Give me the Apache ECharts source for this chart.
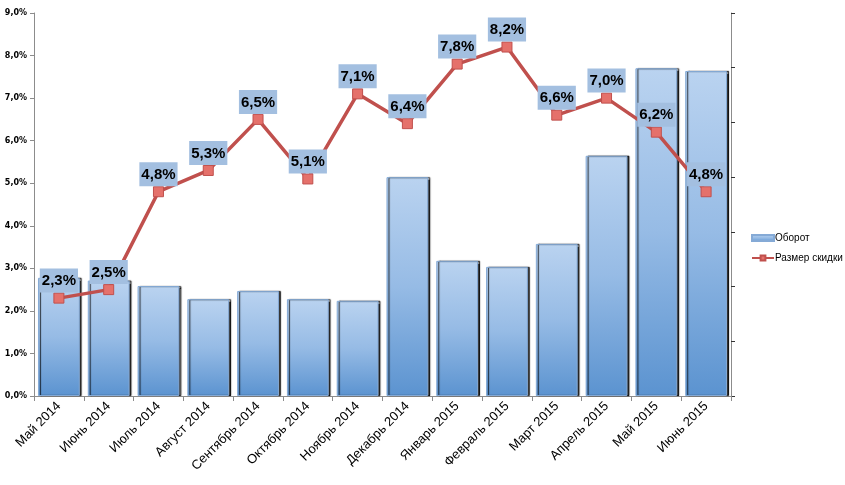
<!DOCTYPE html>
<html><head><meta charset="utf-8">
<script src="https://cdn.jsdelivr.net/npm/echarts@6/dist/echarts.min.js"></script>
<style>html,body{margin:0;padding:0;background:#fff}#c{width:845px;height:485px}</style>
</head><body><div id="c"></div>
<script>
const categories = ['Май 2014','Июнь 2014','Июль 2014','Август 2014','Сентябрь 2014','Октябрь 2014','Ноябрь 2014','Декабрь 2014','Январь 2015','Февраль 2015','Март 2015','Апрель 2015','Май 2015','Июнь 2015'];
const turnover = [2.16, 2.11, 2.01, 1.77, 1.92, 1.77, 1.74, 4.00, 2.47, 2.36, 2.78, 4.39, 5.99, 5.94];
const discount = [2.3, 2.5, 4.8, 5.3, 6.5, 5.1, 7.1, 6.4, 7.8, 8.2, 6.6, 7.0, 6.2, 4.8];
const leftTicks = {min: 0, max: 9, interval: 1};
const rightTicks = {min: 0, max: 7, interval: 1};

const fmt = v => v.toFixed(1).replace('.', ',') + '%';
const chart = echarts.init(document.getElementById('c'));
chart.setOption({
  animation: false,
  grid: {left: 34, right: 114, top: 13, bottom: 89},
  legend: {
    orient: 'vertical', left: 746, top: 228, itemGap: 10,
    itemWidth: 22, itemHeight: 6,
    textStyle: {fontFamily: 'Liberation Sans', fontSize: 10, color: '#000', padding: [0, 0, 0, -4]},
    data: [{name: 'Оборот', icon: 'rect'}, {name: 'Размер скидки'}]
  },
  xAxis: {
    type: 'category', data: categories,
    axisLine: {lineStyle: {color: '#8c8c8c'}},
    axisTick: {show: true, alignWithLabel: false, lineStyle: {color: '#8c8c8c'}},
    axisLabel: {rotate: 45, interval: 0, fontFamily: 'Liberation Sans', fontSize: 13, color: '#000', margin: 8}
  },
  yAxis: [{
    type: 'value', min: leftTicks.min, max: leftTicks.max, interval: leftTicks.interval,
    splitLine: {show: false},
    axisLine: {show: true, lineStyle: {color: '#8c8c8c'}},
    axisTick: {show: true, length: 4, lineStyle: {color: '#8c8c8c'}},
    axisLabel: {formatter: fmt, fontFamily: 'DejaVu Sans', fontWeight: 'bold', fontSize: 8, color: '#000', margin: 7}
  }, {
    type: 'value', position: 'right', min: rightTicks.min, max: rightTicks.max, interval: rightTicks.interval,
    splitLine: {show: false},
    axisLine: {show: true, lineStyle: {color: '#8c8c8c'}},
    axisTick: {show: true, length: 4, lineStyle: {color: '#333'}},
    axisLabel: {show: false}
  }],
  series: [{
    name: 'Оборот', type: 'bar', yAxisIndex: 1, data: turnover,
    barCategoryGap: '16%',
    itemStyle: {
      color: new echarts.graphic.LinearGradient(0, 0, 0, 1, [
        {offset: 0, color: '#bad3f0'}, {offset: 0.5, color: '#96bbe5'}, {offset: 1, color: '#5b93d0'}
      ]),
      borderColor: '#85aad6', borderWidth: 1,
      shadowColor: 'rgba(0,0,0,0.8)', shadowOffsetX: 2, shadowOffsetY: 0, shadowBlur: 1
    }
  }, {
    name: 'Размер скидки', type: 'line', yAxisIndex: 0, data: discount, z: 5,
    symbol: 'rect', symbolSize: 10,
    lineStyle: {color: '#c0504d', width: 3.5},
    itemStyle: {color: '#e5716b', borderColor: '#c0504d', borderWidth: 1},
    label: {
      show: true, position: 'top', distance: 0,
      formatter: p => fmt(p.value),
      backgroundColor: '#a3bfe0', padding: [5, 2, 4, 2],
      fontFamily: 'Liberation Sans', fontWeight: 'bold', fontSize: 15, color: '#000'
    }
  }]
});
</script></body></html>
